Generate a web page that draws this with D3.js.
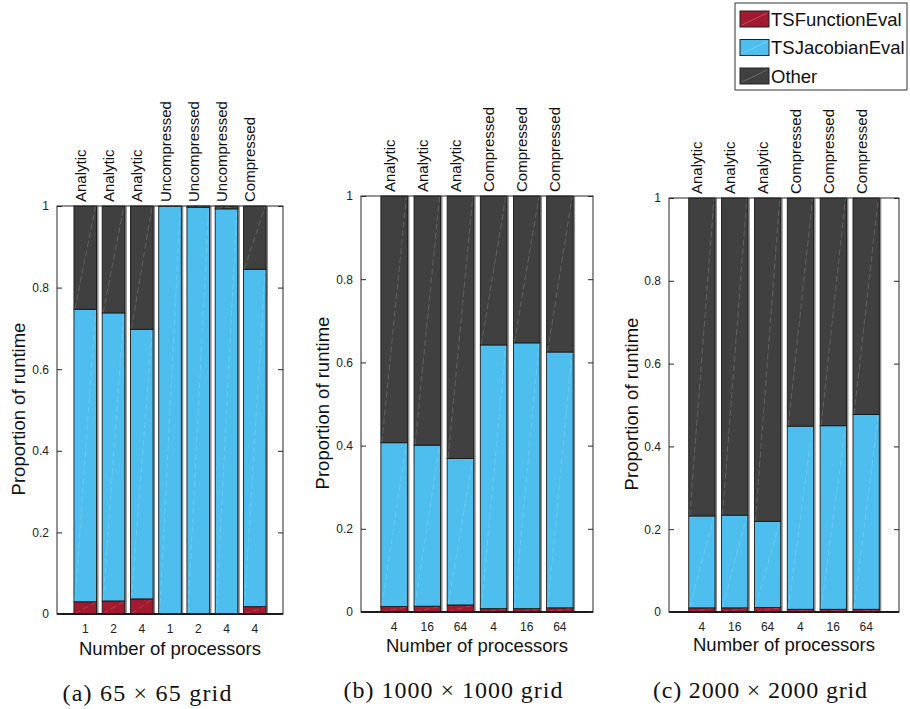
<!DOCTYPE html>
<html><head><meta charset="utf-8">
<script src="https://cdn.jsdelivr.net/npm/d3@7"></script>
<style>
html,body{margin:0;padding:0;background:#fff;}
svg{display:block;font-family:"Liberation Sans",Arial,sans-serif;}
</style></head>
<body><svg id="chart" width="910" height="709"></svg>
<script>
// ---------- data ----------
const seriesNames = ["TSFunctionEval", "TSJacobianEval", "Other"];
const yTicks = [0, 0.2, 0.4, 0.6, 0.8, 1];
const yTickLabels = ["0", "0.2", "0.4", "0.6", "0.8", "1"];

const methodsA = ["Analytic", "Analytic", "Analytic", "Uncompressed", "Uncompressed", "Uncompressed", "Compressed"];
const procsA   = ["1", "2", "4", "1", "2", "4", "4"];
const funcA    = [0.030, 0.032, 0.037, 0.001, 0.001, 0.001, 0.018];
const jacA     = [0.717, 0.706, 0.661, 0.998, 0.996, 0.992, 0.827];
const otherA   = [0.253, 0.262, 0.302, 0.001, 0.003, 0.007, 0.155];

const methodsB = ["Analytic", "Analytic", "Analytic", "Compressed", "Compressed", "Compressed"];
const procsB   = ["4", "16", "64", "4", "16", "64"];
const funcB    = [0.013, 0.014, 0.017, 0.008, 0.008, 0.010];
const jacB     = [0.394, 0.387, 0.352, 0.634, 0.639, 0.615];
const otherB   = [0.593, 0.599, 0.631, 0.358, 0.353, 0.375];

const methodsC = ["Analytic", "Analytic", "Analytic", "Compressed", "Compressed", "Compressed"];
const procsC   = ["4", "16", "64", "4", "16", "64"];
const funcC    = [0.010, 0.010, 0.011, 0.0065, 0.0065, 0.0065];
const jacC     = [0.222, 0.224, 0.208, 0.4425, 0.4435, 0.4705];
const otherC   = [0.768, 0.766, 0.781, 0.551, 0.550, 0.523];

const captions = ["(a) 65 \u00d7 65 grid", "(b) 1000 \u00d7 1000 grid", "(c) 2000 \u00d7 2000 grid"];
const xTitle = "Number of processors";
const yTitle = "Proportion of runtime";

// ---------- style / layout ----------
const colors = ["#a3192f", "#4dbeee", "#404040"];
const svg = d3.select("#chart");

const panels = [
  {methods: methodsA, procs: procsA, series: [funcA, jacA, otherA], caption: captions[0],
   box: {l: 57, r: 283, t: 206, b: 614}, ylab: 19, xlabY: 655, capX: 147, capY: 701, capW: 169, catGap: 4},
  {methods: methodsB, procs: procsB, series: [funcB, jacB, otherB], caption: captions[1],
   box: {l: 361, r: 593, t: 196, b: 612}, ylab: 323, xlabY: 652, capX: 453, capY: 698, capW: 219, catGap: 4},
  {methods: methodsC, procs: procsC, series: [funcC, jacC, otherC], caption: captions[2],
   box: {l: 669, r: 899, t: 198, b: 612}, ylab: 632, xlabY: 651, capX: 760, capY: 698, capW: 214, catGap: 4}
];

panels.forEach(p => {
  const n = p.methods.length;
  const x = d3.scaleLinear().domain([0, n + 1]).range([p.box.l, p.box.r]);
  const y = d3.scaleLinear().domain([0, 1]).range([p.box.b, p.box.t]);
  const g = svg.append("g");
  const bw = (x(1) - x(0)) * 0.8;

  const rows = p.methods.map((m, i) => ({i, f: p.series[0][i], j: p.series[1][i], o: p.series[2][i]}));
  const stack = d3.stack().keys(["f", "j", "o"])(rows);

  // shadows
  g.selectAll("rect.sh").data(rows).join("rect")
    .attr("x", d => x(d.i + 1) - bw / 2 + 2).attr("width", bw)
    .attr("y", d => y(d.f + d.j + d.o)).attr("height", d => y(0) - y(d.f + d.j + d.o))
    .attr("fill", "#8a8a8a");

  stack.forEach((layer, k) => {
    const lg = g.append("g");
    layer.forEach((seg, i) => {
      const x0 = x(i + 1) - bw / 2, y0 = y(seg[1]), y1 = y(seg[0]);
      if (y1 - y0 <= 0) return;
      lg.append("rect").attr("x", x0).attr("y", y0).attr("width", bw).attr("height", y1 - y0)
        .attr("fill", colors[k]).attr("stroke", "#1a1a1a").attr("stroke-width", 0.9);
      lg.append("line").attr("x1", x0 + 1).attr("y1", y1 - 0.5).attr("x2", x0 + bw - 1).attr("y2", y0 + 0.5)
        .attr("stroke", "#ffffff").attr("stroke-opacity", 0.22).attr("stroke-width", 0.8)
        .attr("stroke-dasharray", "6,3");
    });
  });

  // frame
  g.append("rect").attr("x", p.box.l).attr("y", p.box.t).attr("width", p.box.r - p.box.l)
    .attr("height", p.box.b - p.box.t).attr("fill", "none").attr("stroke", "#262626").attr("stroke-width", 1);
  g.append("line").attr("x1", p.box.l).attr("x2", p.box.r).attr("y1", p.box.b).attr("y2", p.box.b)
    .attr("stroke", "#1a1a1a").attr("stroke-width", 1.8);

  // y ticks (inside, both sides)
  const axL = d3.axisLeft(y).tickValues(yTicks).tickFormat((d, i) => yTickLabels[i]).tickSizeInner(-5).tickSizeOuter(0).tickPadding(8);
  const gl = g.append("g").attr("transform", `translate(${p.box.l},0)`).call(axL);
  gl.select(".domain").remove();
  gl.selectAll("line").attr("stroke", "#262626");
  gl.selectAll("text").attr("font-size", 12).attr("fill", "#222").attr("font-family", "Liberation Sans, Arial, sans-serif");
  const axR = d3.axisRight(y).tickValues(yTicks).tickFormat("").tickSizeInner(-5).tickSizeOuter(0);
  const gr = g.append("g").attr("transform", `translate(${p.box.r},0)`).call(axR);
  gr.select(".domain").remove();
  gr.selectAll("line").attr("stroke", "#262626");

  // x tick labels (processors)
  g.selectAll("text.proc").data(p.procs).join("text")
    .attr("x", (d, i) => x(i + 1)).attr("y", p.box.b + 19)
    .attr("text-anchor", "middle").attr("font-size", 12).attr("fill", "#222").text(d => d);

  // category labels on top, rotated
  g.selectAll("text.meth").data(p.methods).join("text")
    .attr("transform", (d, i) => `translate(${x(i + 1) + 0.5},${p.box.t - p.catGap}) rotate(-90)`)
    .attr("text-anchor", "start").attr("font-size", 15).attr("fill", "#111").text(d => d);

  // axis titles
  g.append("text").attr("x", (p.box.l + p.box.r) / 2).attr("y", p.xlabY)
    .attr("text-anchor", "middle").attr("font-size", 18.5).attr("fill", "#111").text(xTitle);
  g.append("text").attr("transform", `translate(${p.ylab},${(p.box.t + p.box.b) / 2 - 1}) rotate(-90)`)
    .attr("text-anchor", "middle").attr("dy", "0.35em").attr("font-size", 18.5).attr("fill", "#111").text(yTitle);

  // caption
  g.append("text").attr("x", p.capX).attr("y", p.capY).attr("text-anchor", "middle")
    .attr("font-family", "Liberation Serif, Times New Roman, serif").attr("font-size", 24).attr("fill", "#111")
    .attr("textLength", p.capW).attr("lengthAdjust", "spacing").text(p.caption);
});

// ---------- legend ----------
const leg = svg.append("g");
leg.append("rect").attr("x", 735).attr("y", 3).attr("width", 172).attr("height", 87)
  .attr("fill", "#fff").attr("stroke", "#333").attr("stroke-width", 1);
const legY = d3.scalePoint().domain(seriesNames).range([19, 76]);
seriesNames.forEach((s, k) => {
  const cy = legY(s);
  leg.append("rect").attr("x", 740).attr("y", cy - 8).attr("width", 29).attr("height", 16)
    .attr("fill", colors[k]).attr("stroke", "#222").attr("stroke-width", 1);
  leg.append("line").attr("x1", 742).attr("y1", cy + 6).attr("x2", 767).attr("y2", cy - 6)
    .attr("stroke", "#fff").attr("stroke-opacity", 0.3).attr("stroke-width", 0.8);
  leg.append("text").attr("x", 771).attr("y", cy).attr("dy", "0.36em")
    .attr("font-size", 18.5).attr("fill", "#111").text(s);
});
</script></body></html>
